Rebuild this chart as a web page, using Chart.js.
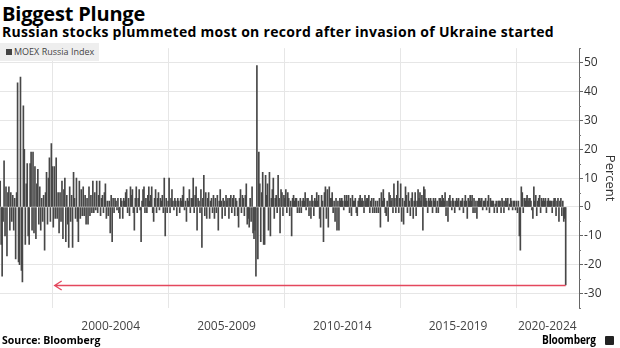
<!DOCTYPE html>
<html>
<head>
<meta charset="utf-8">
<script src="https://cdn.jsdelivr.net/npm/chart.js@4"></script>
<style>
  body { margin: 0; width: 620px; height: 348px; background: #fff; position: relative; overflow: hidden; font-family: "Open Sans", sans-serif; color: #000; }
  #title { position: absolute; left: 2px; top: 0px; font-size: 20px; font-weight: 700; letter-spacing: -0.2px; }
  #subtitle { position: absolute; left: 2px; top: 22px; font-size: 14px; font-weight: 700; letter-spacing: 0.3px; }
  #wrap { position: absolute; left: 0; top: 40px; width: 620px; height: 300px; }
  #legend { position: absolute; left: 0; top: 43px; width: 99px; height: 18px; background: #eeeeee; font-size: 9px; color: #444; line-height: 18px; white-space: nowrap; }
  #legend .sw { display: inline-block; width: 6px; height: 6px; background: #444; margin: 0 2px 0 6px; vertical-align: 0px; }
  #source { position: absolute; left: 2px; top: 333px; font-size: 10.5px; font-weight: 700; }
  #brand { position: absolute; left: 542px; top: 330px; font-size: 13px; font-weight: 700; letter-spacing: -0.2px; transform: scaleX(0.78); transform-origin: 0 0; }
  #icon { position: absolute; left: 605px; top: 336px; width: 9px; height: 9px; background: #222; border-radius: 1px; }
</style>
</head>
<body>
<div id="title">Biggest Plunge</div>
<div id="subtitle">Russian stocks plummeted most on record after invasion of Ukraine started</div>
<div id="wrap"><canvas id="chart" width="620" height="300"></canvas></div>
<div id="legend"><span class="sw"></span>MOEX Russia Index</div>
<div id="source">Source: Bloomberg</div>
<div id="brand">Bloomberg</div>
<div id="icon"></div>
<script>
// daily % change per month
const y1997 = [9, -13, -24, -5, 16, -10, 7]
const y1998 = [-17, 5, 7, -8, 5, -5, 4, -8, 3, -18, 5, 43, -19, -20, 45, -22, -26, 35, 20, -13, 8, 15, -10, -13]
const y1999 = [15, 19, -8, 19, -9, 14, -11, 8, 13, -6, 7, -8, 3, -5, 4, -15, 5, 12, -6, 10, 17, -5, 22, 14]
const y2000 = [-7, 14, -4, 17, -4, 5, -9, 5, -5, 9, -11, 6, 10, -12, 4, -6, -14, 7, -5, 4, -14, 12, 3, -4]
const y2001 = [10, -5, -12, 9, -4, 6, -3, 7, -3, 4, -6, 3, -6, 7, -3, 4, -2, 9, -2, 5, -1, 9, -2, 4]
const y2002 = [9, -3, 3, 4, -2, 5, 8, -4, 2, -3, 2, -9, 4, -12, 3, -2, 3, 2, -1, 3, -2, -4, 3, 2]
const y2003 = [-4, 3, 2, 5, 6, -2, 3, -3, 7, 4, 6, -2, -8, 3, 7, -2, 3, 6, -1, -12, 2, 6, 7, -2]
const y2004 = [3, -2, 4, 7, 2, 4, 7, -2, -5, 3, 6, -2, 3, 5, -1, 3, 2, 4, -2, 10, -10, 3, -2, 2]
const y2005 = [10, -2, 3, 6, 2, -1, 3, 2, -3, 3, 2, -2, 3, 2, 4, 7, -1, 2, -5, 3, 2, 6, -2, 3]
const y2006 = [3, 10, -2, 4, 7, -8, 3, 2, -2, 6, -14, 3, 11, -3, 5, -4, 3, 5, -4, 2, 3, -2, 4, -4]
const y2007 = [3, -2, 4, -8, 2, 6, 2, -4, 3, 2, -3, 4, 2, 3, -4, 3, 4, -2, 3, 4, -3, 3, 2, -3]
const y2008 = [-7, 3, 6, -2, 4, 3, -3, 4, 8, -6, -4, -7, 3, -5, 7, -9, -11, -8, -24, 49, -18, 19, 8, -12]
const y2009 = [5, 12, -13, -13, 11, 4, 8, -8, 12, -10, 3, 6, 10, -4, 3, 4, -2, 11, 3, -9, 6, 5, -3, 4]
const y2010 = [3, 6, -2, 5, 3, -3, 2, -10, 3, 4, 2, 3, 3, -2, 2, -2, 3, -2, 2, 3, 2, 5, -1, 3]
const y2011 = [3, -3, 2, -4, 4, 2, -3, 3, 2, 5, 2, 4, -4, -7, 4, 2, -12, 5, 7, -4, 6, -7, 7, 3]
const y2012 = [3, 5, -2, 2, -5, 3, -8, 2, -8, 3, 2, 3, 2, -1, 4, 2, 4, 2, 4, -2, 3, -3, 4, 2]
const y2013 = [2, 3, -2, -3, 2, 3, 4, 2, 3, 2, -2, 4, 2, 3, 3, 4, -2, 2, 3, -2, 3, -2, 2, -2]
const y2014 = [2, -2, 3, -7, 5, 2, 6, 3, -2, -3, 2, -5, 5, 4, 2, 3, -2, 8, 3, -2, 4, 9, -2, 3]
const y2015 = [8, -5, 3, -6, 2, 7, 4, -2, 5, 2, -3, 3, 5, -4, 2, 5, -3, 2, 6, 3, 5, 2, 4, -8]
const y2016 = [7, 6, 3, 2, -2, 3, 2, 3, 2, -2, 3, 2, 3, -2, 2, -2, 3, 3, 2, 4, 3, 2, 5, -3]
const y2017 = [2, -5, 3, 4, 2, -1, 3, 2, -2, 2, 3, 2, 3, -1, 2, 2, 3, -2, 2, 4, 2, -4, 3, 2]
const y2018 = [4, 2, 4, -2, 3, -2, 2, -4, 2, 3, 3, 2, 3, -1, 2, 2, 3, -1, 2, 4, -2, 3, 2, 2]
const y2019 = [2, -2, 1, 2, -2, 2, 2, 2, -2, 3, 2, -2, 2, 3, 2, 3, -1, 1, 3, 2, -1, 2, 2, -1]
const y2020 = [2, -2, 2, -10, -15, 7, 5, -2, 3, 2, 3, 4, 2, 3, 3, 2, -1, -4, 7, 2, 4, -3, 2, 3]
const y2021 = [4, -2, 3, 2, 3, 2, 3, -2, 2, 3, 2, 2, 2, -2, 2, 3, 3, -3, 2, 3, -5, 2, 3, -3]
const y2022 = [2, -5, -4, -27]

// [year, first half-month slot, values]
const yearRows = [
  [1997, 17, y1997], [1998, 0, y1998], [1999, 0, y1999], [2000, 0, y2000],
  [2001, 0, y2001], [2002, 0, y2002], [2003, 0, y2003], [2004, 0, y2004],
  [2005, 0, y2005], [2006, 0, y2006], [2007, 0, y2007], [2008, 0, y2008],
  [2009, 0, y2009], [2010, 0, y2010], [2011, 0, y2011], [2012, 0, y2012],
  [2013, 0, y2013], [2014, 0, y2014], [2015, 0, y2015], [2016, 0, y2016],
  [2017, 0, y2017], [2018, 0, y2018], [2019, 0, y2019], [2020, 0, y2020],
  [2021, 0, y2021], [2022, 0, y2022]
]

const periodLabels = ['2000-2004', '2005-2009', '2010-2014', '2015-2019', '2020-2024']
const periodLabelPos = [2002.5, 2007.5, 2012.5, 2017.5, 2021.35]
const periodBreaks = [2000, 2005, 2010, 2015, 2020]
const yTicks = [-30, -20, -10, 0, 10, 20, 30, 40, 50]
const xMin = 1997.72
const xMax = 2022.72
const arrowStartYear = 2000.08

const points = []
yearRows.forEach(([yr, start, vals]) => {
  vals.forEach((v, i) => points.push({ x: yr + (start + i + 0.5) / 24, y: v }))
})

const fontFamily = '"Open Sans", sans-serif'

const arrowPlugin = {
  id: 'plungeArrow',
  afterDatasetsDraw(chart) {
    const { ctx, scales } = chart
    const last = points[points.length - 1]
    const y = Math.round(scales.y.getPixelForValue(last.y)) + 0.5
    const x1 = scales.x.getPixelForValue(arrowStartYear)
    const x2 = scales.x.getPixelForValue(last.x)
    ctx.save()
    ctx.strokeStyle = '#e4475d'
    ctx.lineWidth = 1.3
    ctx.beginPath()
    ctx.moveTo(x2, y)
    ctx.lineTo(x1, y)
    ctx.moveTo(x1 + 7, y - 4.5)
    ctx.lineTo(x1, y)
    ctx.lineTo(x1 + 7, y + 4.5)
    ctx.stroke()
    ctx.restore()
  }
}

const minorTickPlugin = {
  id: 'minorTicks',
  afterDraw(chart) {
    const { ctx, scales, chartArea } = chart
    ctx.save()
    ctx.strokeStyle = '#777'
    ctx.lineWidth = 1
    for (let v = -35; v <= 55; v += 10) {
      const y = Math.round(scales.y.getPixelForValue(v)) + 0.5
      ctx.beginPath()
      ctx.moveTo(chartArea.right, y)
      ctx.lineTo(chartArea.right + 2, y)
      ctx.stroke()
    }
    ctx.restore()
  }
}

const chartEl = document.querySelector('#chart')
const chartCtx = chartEl.getContext('2d')

new Chart(chartCtx, {
  type: 'bar',
  data: {
    datasets: [{
      label: 'MOEX Russia Index',
      data: points,
      backgroundColor: '#474747',
      borderWidth: 0,
      barThickness: 1
    }]
  },
  options: {
    responsive: false,
    animation: false,
    devicePixelRatio: 1,
    layout: { padding: { top: 6.5, left: 0, right: 0, bottom: 0 } },
    plugins: { legend: { display: false }, tooltip: { enabled: false } },
    scales: {
      x: {
        type: 'linear',
        offset: false,
        min: xMin,
        max: xMax,
        afterBuildTicks: s => {
          s.ticks = periodBreaks.concat(periodLabelPos).sort((a, b) => a - b).map(v => ({ value: v }))
        },
        afterFit: s => { s.height = 32; s.paddingLeft = 0; s.paddingRight = 0 },
        ticks: {
          autoSkip: false,
          maxRotation: 0,
          color: '#444',
          font: { family: fontFamily, size: 12 },
          padding: 11,
          callback: v => {
            const i = periodLabelPos.indexOf(v)
            return i >= 0 ? periodLabels[i] : ''
          }
        },
        grid: {
          offset: false,
          drawTicks: false,
          color: c => (c.tick && periodBreaks.includes(c.tick.value)) ? '#e6e6e6' : 'rgba(0,0,0,0)'
        },
        border: { display: false }
      },
      y: {
        position: 'right',
        min: -35,
        max: 55,
        afterBuildTicks: s => { s.ticks = yTicks.map(v => ({ value: v })) },
        afterFit: s => { s.width = 41 },
        ticks: {
          color: '#333',
          font: { family: fontFamily, size: 12 },
          padding: 1
        },
        grid: { color: '#e6e6e6', tickColor: '#666', tickLength: 4 },
        border: { display: true, color: '#666' },
        title: {
          display: true,
          text: 'Percent',
          color: '#333',
          font: { family: fontFamily, size: 13 },
          padding: 2
        }
      }
    }
  },
  plugins: [arrowPlugin, minorTickPlugin]
})
</script>
</body>
</html>
